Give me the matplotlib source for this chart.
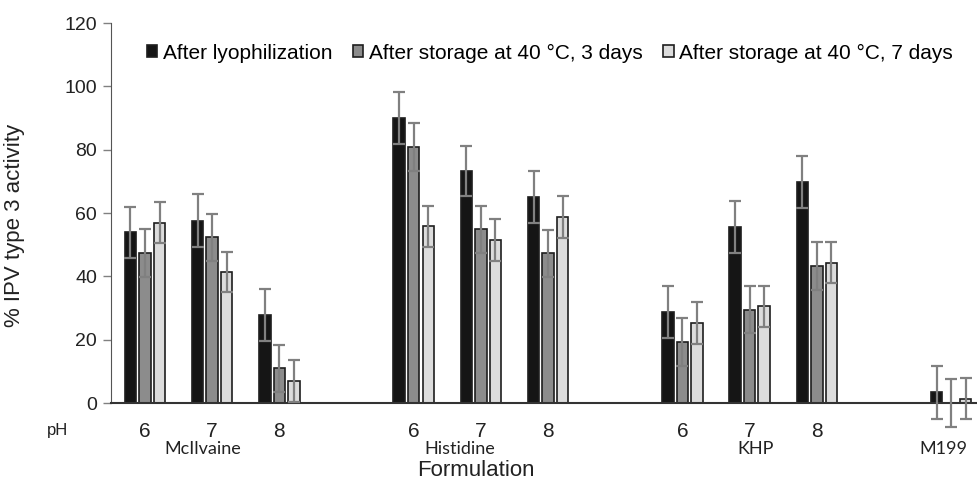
import numpy as np
import matplotlib
matplotlib.use("Agg")
import matplotlib.pyplot as plt
from matplotlib.patches import Patch

plt.rcParams['font.family'] = ['Liberation Sans', 'DejaVu Sans']

# dados
groups = ["McIlvaine", "Histidine", "KHP", "M199"]
ph_labels = ["6", "7", "8", "6", "7", "8", "6", "7", "8", ""]
slots = [0, 1, 2, 4, 5, 6, 8, 9, 10, 12]
series = ["After lyophilization",
          "After storage at 40 °C, 3 days",
          "After storage at 40 °C, 7 days"]

lyo = [53.9, 57.6, 27.8, 90.0, 73.3, 65.0, 28.7, 55.6, 69.8, 3.4]
day3 = [47.4, 52.3, 11.0, 80.8, 54.9, 47.3, 19.2, 29.5, 43.3, 0.0]
day7 = [57.0, 41.4, 6.9, 55.8, 51.6, 58.7, 25.3, 30.5, 44.3, 1.3]

err_lyo = [8.1, 8.3, 8.2, 8.2, 7.9, 8.3, 8.1, 8.1, 8.2, 8.3]
err_day3 = [7.5, 7.5, 7.4, 7.6, 7.4, 7.4, 7.5, 7.5, 7.5, 7.6]
err_day7 = [6.6, 6.4, 6.7, 6.4, 6.6, 6.6, 6.6, 6.5, 6.5, 6.5]

group_label_x = [0.86, 4.68, 9.09, 11.88]

values = [lyo, day3, day7]
errors = [err_lyo, err_day3, err_day7]
colors = ["#151515", "#8c8c8c", "#dcdcdc"]
offsets = [-0.216, 0.0, 0.216]

fig = plt.figure(figsize=(9.77, 4.8), dpi=100)
ax = fig.add_axes([111/977, 1 - 403/480, 1 - 111/977 - 0.001, (403 - 23)/480])

x = np.array(slots, dtype=float)
for vals, errs, col, off in zip(values, errors, colors, offsets):
    ax.bar(x + off, vals, width=0.17, color=col, edgecolor="#1e1e1e",
           linewidth=1.2, zorder=2)
    eb = ax.errorbar(x + off, vals, yerr=errs, fmt="none", ecolor="#808080",
                     elinewidth=1.6, capsize=4, capthick=1.6, zorder=3)
    # barras de erro do M199 passam abaixo do eixo
    for art in list(eb.lines[1]) + list(eb.lines[2]):
        art.set_clip_on(False)

ax.set_xlim(-0.506, 12.37)
ax.set_ylim(0, 120)
ax.set_yticks(range(0, 121, 20))
ax.tick_params(axis="y", length=6, width=1, color="#808080", labelsize=14,
               labelcolor="#222222", pad=4)
ax.set_xticks(x)
ax.set_xticklabels(ph_labels, fontsize=15, color="#222222")
ax.tick_params(axis="x", length=0, pad=13.5)

for s in ["top", "right"]:
    ax.spines[s].set_visible(False)
ax.spines["left"].set_color("#555555")
ax.spines["bottom"].set_color("#333333")
ax.spines["bottom"].set_linewidth(1.5)

ax.set_ylabel("% IPV type 3 activity", fontsize=16, color="#222222")
ax.yaxis.set_label_coords(-0.099, 0.466)

for g, gx in zip(groups, group_label_x):
    ax.text(gx, -14.6, g, ha="center", va="center", fontsize=13,
            family=["Lato", "DejaVu Sans"], color="#222222", clip_on=False)

fig.text(58/977, 1 - 431/480, "pH", ha="center", va="center", fontsize=12,
         color="#222222")
fig.text(476/977, 1 - 470/480, "Formulation", ha="center", va="center",
         fontsize=16, color="#222222")

handles = [Patch(facecolor=c, edgecolor="#1e1e1e", linewidth=1.2) for c in colors]
fig.legend(handles, series, loc="center left", bbox_to_anchor=(147/977, 1 - 53/480),
           ncol=3, frameon=False, fontsize=15, handlelength=0.5, handleheight=0.5,
           handletextpad=0.25, columnspacing=1.0, borderpad=0, borderaxespad=0)

fig.savefig("out.png", dpi=100)
